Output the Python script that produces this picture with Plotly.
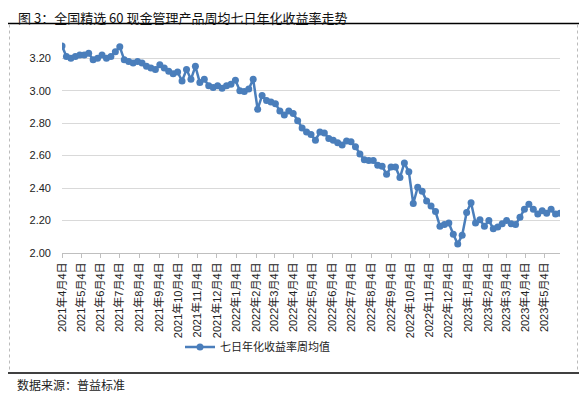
import pandas as pd
import plotly.graph_objects as go

# ---- data ----
start_date = "2021-04-04"
n_weeks = 113
weekly_dates = pd.date_range(start_date, periods=n_weeks, freq="7D")

yield_values = [
    3.275, 3.21, 3.20, 3.21, 3.22, 3.22, 3.23, 3.19, 3.20, 3.22,
    3.20, 3.21, 3.24, 3.27, 3.19, 3.18, 3.17, 3.18, 3.17, 3.15,
    3.14, 3.13, 3.16, 3.14, 3.12, 3.105, 3.115, 3.06, 3.13, 3.07,
    3.15, 3.05, 3.07, 3.03, 3.02, 3.03, 3.015, 3.03, 3.04, 3.065,
    3.00, 2.995, 3.01, 3.07, 2.886, 2.97, 2.94, 2.93, 2.92, 2.875,
    2.85, 2.875, 2.86, 2.815, 2.77, 2.745, 2.73, 2.695, 2.745, 2.74,
    2.705, 2.695, 2.68, 2.665, 2.69, 2.685, 2.655, 2.61, 2.575, 2.57,
    2.57, 2.54, 2.535, 2.485, 2.53, 2.53, 2.465, 2.555, 2.50, 2.305,
    2.405, 2.38, 2.32, 2.29, 2.255, 2.165, 2.175, 2.185, 2.115, 2.055,
    2.11, 2.25, 2.31, 2.185, 2.205, 2.165, 2.20, 2.15, 2.16, 2.18,
    2.20, 2.18, 2.175, 2.22, 2.27, 2.30, 2.27, 2.24, 2.26, 2.245,
    2.27, 2.24, 2.245,
]

tick_months = [
    (2021, 4), (2021, 5), (2021, 6), (2021, 7), (2021, 8), (2021, 9),
    (2021, 10), (2021, 11), (2021, 12), (2022, 1), (2022, 2), (2022, 3),
    (2022, 4), (2022, 5), (2022, 6), (2022, 7), (2022, 8), (2022, 9),
    (2022, 10), (2022, 11), (2022, 12), (2023, 1), (2023, 2), (2023, 3),
    (2023, 4), (2023, 5),
]
tick_vals = [f"{y}-{m:02d}-04" for y, m in tick_months]
tick_text = [f"{y}年{m}月4日" for y, m in tick_months]

y_ticks = [2.00, 2.20, 2.40, 2.60, 2.80, 3.00, 3.20]

series_name = "七日年化收益率周均值"
title_text = "图 3：全国精选 60 现金管理产品周均七日年化收益率走势"
source_text = "数据来源：普益标准"

# ---- layout geometry (pixels) ----
# the page body has an 8px margin, so the figure is drawn 8px smaller and all
# reference pixel positions are shifted by OFF
OFF = 8
W, H = 587 - OFF, 393 - OFF
L, R, T, B = 62 - OFF, 27, 42 - OFF, 140
plot_w = W - L - R
plot_h = H - T - B


def px(x):
    return (x - OFF - L) / plot_w


def py(y):
    return (H - B - (y - OFF)) / plot_h


CJK = "Liberation Sans, Noto Sans CJK SC, sans-serif"
BLUE = "#4a7ebb"

fig = go.Figure()
fig.add_trace(go.Scatter(
    x=weekly_dates, y=yield_values, mode="lines+markers", name=series_name,
    line=dict(color=BLUE, width=2.5),
    marker=dict(color=BLUE, size=7),
    showlegend=True,
))

fig.update_layout(
    width=W, height=H,
    margin=dict(l=L, r=R, t=T, b=B, pad=0),
    paper_bgcolor="white", plot_bgcolor="white",
    font=dict(family=CJK, size=11, color="#222"),
    showlegend=True,
    legend=dict(orientation="h", x=px(180), y=py(347), xanchor="left", yanchor="middle",
                font=dict(family=CJK, size=11, color="#222"), bgcolor="rgba(0,0,0,0)"),
    xaxis=dict(
        range=[weekly_dates[0], weekly_dates[-1]],
        tickmode="array", tickvals=tick_vals, ticktext=tick_text,
        tickangle=-90, ticks="outside", ticklen=4, tickcolor="#bfbfbf",
        showline=True, linecolor="#bfbfbf", linewidth=1,
        showgrid=False, zeroline=False,
        tickfont=dict(family=CJK, size=11, color="#222"),
    ),
    yaxis=dict(
        range=[2.0, 3.3], tickmode="array", tickvals=y_ticks,
        ticktext=[f"{v:.2f}" for v in y_ticks],
        showgrid=True, gridcolor="#d9d9d9", gridwidth=1,
        showline=False, zeroline=False, ticks="",
        ticklabelstandoff=10,
        tickfont=dict(family="Liberation Sans, Arial, sans-serif", size=11, color="#222"),
    ),
)

# title, source
fig.add_annotation(text=title_text, xref="paper", yref="paper", x=px(17), y=py(17),
                   xanchor="left", yanchor="middle", showarrow=False, borderpad=0,
                   font=dict(family="Noto Sans CJK SC", size=13, color="#111"))
fig.add_annotation(text=source_text, xref="paper", yref="paper", x=px(15), y=py(384),
                   xanchor="left", yanchor="middle", showarrow=False,
                   font=dict(family="Noto Sans CJK SC", size=12, color="#222"))

# frame lines
fig.add_shape(type="line", xref="paper", yref="paper", x0=px(8), x1=px(580), y0=py(23.5), y1=py(23.5),
              line=dict(color="black", width=1.5))
fig.add_shape(type="line", xref="paper", yref="paper", x0=px(8), x1=px(580), y0=py(373), y1=py(373),
              line=dict(color="black", width=1.5))
fig.add_shape(type="line", xref="paper", yref="paper", x0=px(9.5), x1=px(9.5), y0=py(24.5), y1=py(372),
              line=dict(color="#bbbbbb", width=1, dash="dot"))
fig.add_shape(type="line", xref="paper", yref="paper", x0=px(577.5), x1=px(577.5), y0=py(24.5), y1=py(372),
              line=dict(color="#bbbbbb", width=1, dash="dot"))

fig.write_html("out.html")
